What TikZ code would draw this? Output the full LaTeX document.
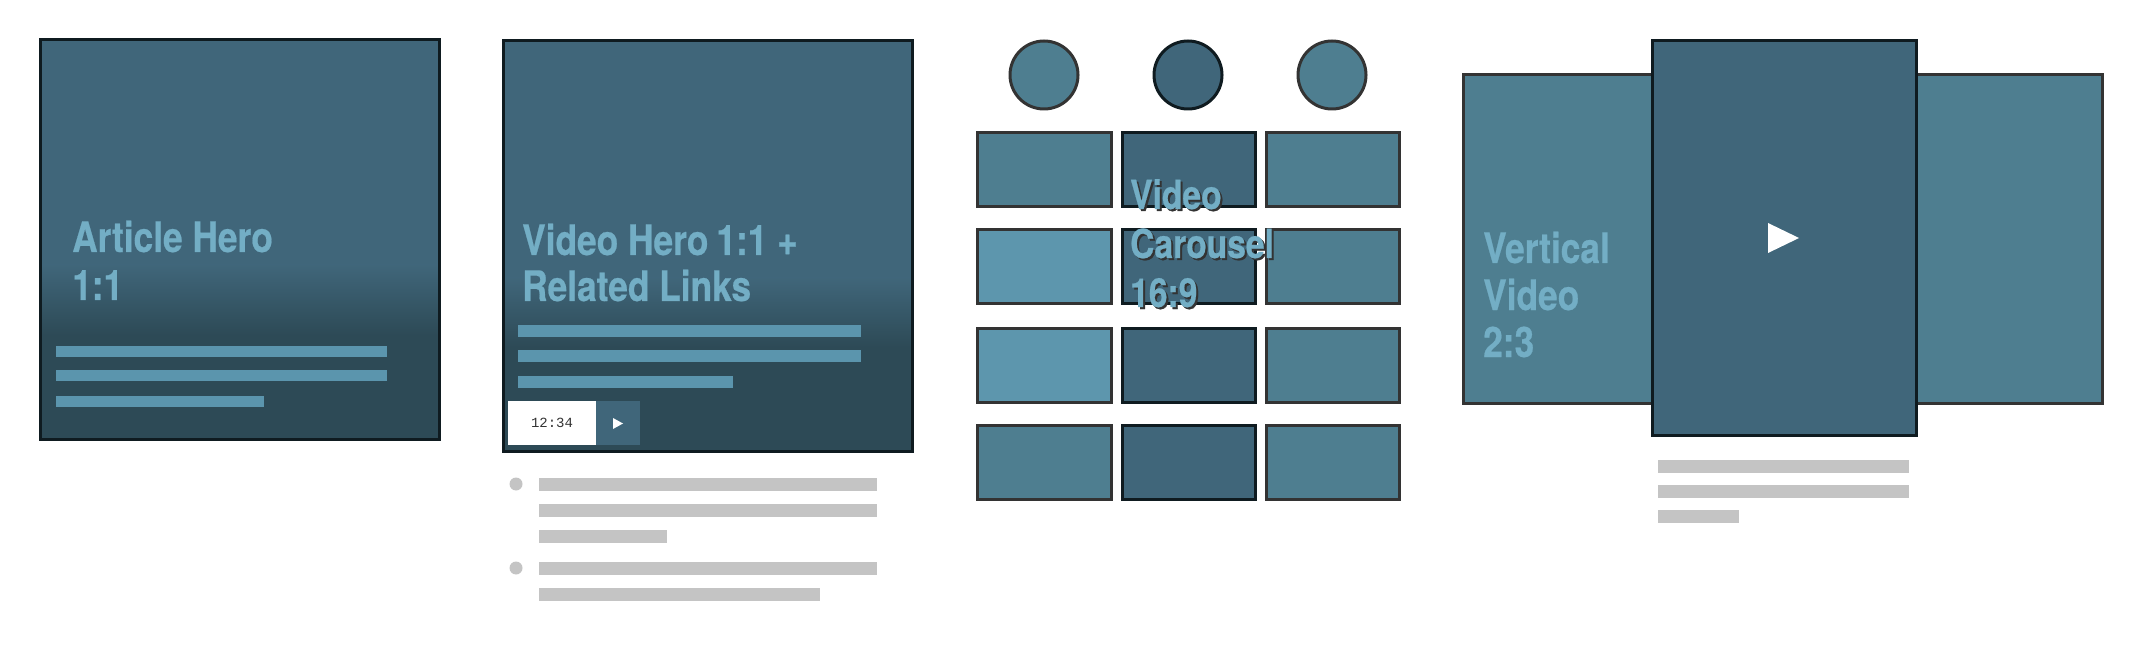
\documentclass[tikz,border=0pt]{standalone}
\usepackage{fontspec}
\setmainfont{TeX Gyre Heros}
\newfontfamily\herofont{texgyreheros-bold.otf}[FakeStretch=0.84,FakeBold=0.5]
\newfontfamily\clockfont{Liberation Mono}
\definecolor{herotop}{HTML}{40667A}
\definecolor{herobot}{HTML}{2D4A56}
\definecolor{tilemid}{HTML}{4E7E90}
\definecolor{tilelight}{HTML}{5D96AD}
\definecolor{barblue}{HTML}{5B95AD}
\definecolor{titleblue}{HTML}{73AEC5}
\definecolor{edgedark}{HTML}{0F1B20}
\definecolor{edgegray}{HTML}{333333}
\definecolor{linegray}{HTML}{C4C4C4}
\begin{document}
\begin{tikzpicture}[x=1pt,y=-1pt,line join=miter,
		title/.style={font=\herofont\fontsize{42}{47}\selectfont,text=titleblue,inner sep=0pt,anchor=base west},
		frame/.style={draw=edgedark,line width=3pt},
		tile/.style={draw=edgegray,line width=3pt}]
		\useasboundingbox (0,0) rectangle (2144,660);
		%--------- Article Hero
		\fill[herotop] (40,40) rectangle (439,265);
		\shade[top color=herotop,bottom color=herobot] (40,265) rectangle (439,335);
		\fill[herobot] (40,335) rectangle (439,439);
		\draw[frame] (40,40) rectangle (439,439);
		\foreach \w/\y in {387/346,387/370,264/396}
			\fill[barblue] (56,\y) rectangle (\w,\y+11);
		\foreach \t [count=\i from 0] in {Article Hero,1:1}
			\node[title] (art\i) at (72,252+48*\i) {\t};
		%--------- Video Hero
		\fill[herotop] (503,41) rectangle (912,278);
		\shade[top color=herotop,bottom color=herobot] (503,278) rectangle (912,347);
		\fill[herobot] (503,347) rectangle (912,451);
		\draw[frame] (503,41) rectangle (912,451);
		\foreach \w/\y in {861/325,861/350,733/376}
			\fill[barblue] (518,\y) rectangle (\w,\y+12);
		\node[title] (vid0) at (522,255) {Video Hero\hspace{8pt}1:1 +};
		\node[title] (vid1) at (522,301) {Related Links};
		\fill[white] (508,401) rectangle (596,445);
		\node[font=\clockfont\fontsize{14}{14}\selectfont,text=edgegray] (clock) at (552,423) {12:34};
		\fill[herotop] (596,401) rectangle (640,445);
		\fill[white] (613,418) -- (613,429) -- (623,423.5) -- cycle;
		\foreach \y in {484,568}
			\fill[linegray] (516,\y) circle (6.5);
		\foreach \w/\y in {877/478,877/504,667/530,877/562,820/588}
			\fill[linegray] (539,\y) rectangle (\w,\y+13);
		%--------- Video Carousel
		\draw[tile,fill=tilemid] (1044,75) circle (34);
		\draw[frame,fill=herotop] (1188,75) circle (34);
		\draw[tile,fill=tilemid] (1332,75) circle (34);
		\foreach \y/\a in {133/tilemid,230/tilelight,328/tilelight,425/tilemid}{
			\draw[tile,fill=\a] (977,\y) rectangle (1111,\y+74);
			\draw[frame,fill=herotop] (1122,\y) rectangle (1255,\y+74);
			\draw[tile,fill=tilemid] (1266,\y) rectangle (1399,\y+74);
		}
		\foreach \t [count=\i from 0] in {Video,Carousel,16:9}{
			\node[title,font=\herofont\fontsize{40}{48}\selectfont,text=edgegray] (carsh\i) at (1132,211+49*\i) {\t};
			\node[title,font=\herofont\fontsize{40}{48}\selectfont] (car\i) at (1130,209+49*\i) {\t};
		}
		%--------- Vertical Video
		\draw[tile,fill=tilemid] (1463,75) rectangle (1700,403);
		\draw[tile,fill=tilemid] (1870,75) rectangle (2102,403);
		\draw[frame,fill=herotop] (1652,41) rectangle (1916,435);
		\fill[white] (1768,223) -- (1768,253) -- (1799,238) -- cycle;
		\foreach \t [count=\i from 0] in {Vertical,Video,2:3}
			\node[title] (vert\i) at (1483,263+47*\i) {\t};
		\foreach \w/\y in {1909/460,1909/485,1739/510}
			\fill[linegray] (1658,\y) rectangle (\w,\y+13);
	\end{tikzpicture}
\end{document}
